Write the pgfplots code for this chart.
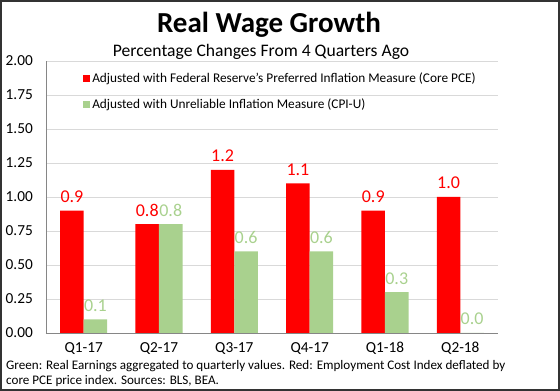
\documentclass[border=0pt]{standalone}
\usepackage{pgfplots}
\pgfplotsset{compat=1.18}
\usepackage{fontspec}
\setmainfont{Carlito}
\definecolor{barred}{RGB}{255,0,0}
\definecolor{bargreen}{RGB}{169,209,142}
\definecolor{gridgray}{RGB}{217,217,217}
\definecolor{axgray}{RGB}{134,134,134}
\begin{document}
\begin{tikzpicture}
\useasboundingbox (0pt,0pt) rectangle (560pt,391pt);
\draw[line width=1.6pt, black!80] (0.8pt,0.8pt) rectangle (559.2pt,390.2pt);
\node[font=\bfseries\fontsize{29}{34}\selectfont, anchor=base, inner sep=0pt] at (269pt,358pt) {Real Wage Growth};
\node[font=\fontsize{17.6}{21}\selectfont, anchor=base, inner sep=0pt] at (261pt,334pt) {Percentage Changes From 4 Quarters Ago};
\begin{axis}[
  at={(46pt,58pt)}, anchor=south west,
  scale only axis, width=452pt, height=272pt,
  xmin=-0.5, xmax=5.5, ymin=0, ymax=2,
  xtick={0,1,2,3,4,5},
  xticklabels={Q1-17,Q2-17,Q3-17,Q4-17,Q1-18,Q2-18},
  ytick={0,0.25,0.5,0.75,1,1.25,1.5,1.75,2},
  yticklabel style={/pgf/number format/fixed, /pgf/number format/fixed zerofill, /pgf/number format/precision=2},
  /pgf/number format/assume math mode=true,
  axis x line*=bottom, axis y line*=left,
  axis line style={axgray, line width=0.8pt, -},
  major tick length=0pt,
  ymajorgrids, grid style={gridgray, line width=0.8pt},
  ticklabel style={font=\fontsize{15.3}{18}\selectfont},
  xticklabel style={anchor=base, yshift=-20pt},
  yticklabel style={anchor=east, inner sep=0pt, xshift=-13pt},
  ybar, bar width=0.312,
  nodes near coords={\pgfmathprintnumber[fixed,fixed zerofill,precision=1]{\pgfplotspointmeta}},
  nodes near coords style={font=\fontsize{18}{21}\selectfont, anchor=base, yshift=8pt, inner sep=0pt},
  legend style={at={(rel axis cs:0.082,0.963)}, anchor=north west, draw=none, fill=none,
    font=\fontsize{13.3}{15}\selectfont, row sep=10pt, inner sep=0pt},
  legend cell align=left,
  legend image code/.code={\fill[#1] (0pt,-3.5pt) rectangle (7pt,3.5pt);},
]
\addplot[fill=barred, draw=none, bar shift=-0.156, every node near coord/.append style={text=barred}]
  coordinates {(0,0.9) (1,0.8) (2,1.2) (3,1.1) (4,0.9) (5,1.0)};
\addlegendentry{Adjusted with Federal Reserve's Preferred Inflation Measure (Core PCE)}
\addplot[fill=bargreen, draw=none, bar shift=0.156, every node near coord/.append style={text=bargreen}]
  coordinates {(0,0.1) (1,0.8) (2,0.6) (3,0.6) (4,0.3) (5,0.0)};
\addlegendentry{Adjusted with Unreliable Inflation Measure (CPI-U)}
\end{axis}
\node[font=\fontsize{13.1}{15}\selectfont, anchor=base west, inner sep=0pt] at (6pt,21pt) {Green: Real Earnings aggregated to quarterly values. Red: Employment Cost Index deflated by};
\node[font=\fontsize{13.1}{15}\selectfont, anchor=base west, inner sep=0pt] at (6pt,6pt) {core PCE price index. Sources: BLS, BEA.};
\end{tikzpicture}
\end{document}
